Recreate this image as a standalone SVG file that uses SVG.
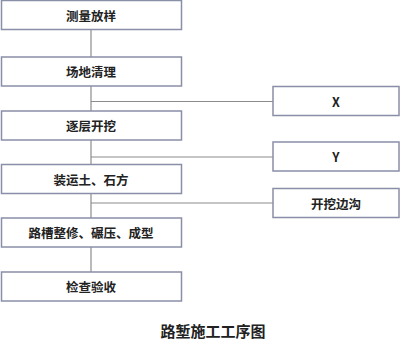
<svg xmlns="http://www.w3.org/2000/svg" width="402" height="348" viewBox="0 0 402 348">
<style>
.box{fill:#fff;stroke:#8a8fa8;stroke-width:1.5}
.t{font-family:"Noto Sans CJK SC","Liberation Sans",sans-serif;font-size:12.5px;font-weight:bold;fill:#222;text-anchor:middle;dominant-baseline:central}
.ln{stroke:#8c8c8c;stroke-width:1.2;fill:none}
</style>
<rect width="402" height="348" fill="#fff"/>
<g id="connectors">
<line class="ln" x1="91" y1="29" x2="91" y2="272"/>
<line class="ln" x1="91" y1="101.5" x2="273" y2="101.5"/>
<line class="ln" x1="91" y1="157" x2="273" y2="157"/>
<line class="ln" x1="91" y1="203" x2="273" y2="203"/>
</g>
<g id="n1"><rect class="box" x="1.5" y="0.5" width="180" height="29"/><text class="t" x="91" y="15">测量放样</text></g>
<g id="n2"><rect class="box" x="1.5" y="57" width="180" height="29"/><text class="t" x="91" y="71.5">场地清理</text></g>
<g id="n3"><rect class="box" x="1.5" y="111" width="180" height="29"/><text class="t" x="91" y="125.5">逐层开挖</text></g>
<g id="n4"><rect class="box" x="1.5" y="164.5" width="180" height="29"/><text class="t" x="91" y="179">装运土、石方</text></g>
<g id="n5"><rect class="box" x="1.5" y="218" width="180" height="29"/><text class="t" x="91" y="232.5">路槽整修、碾压、成型</text></g>
<g id="n6"><rect class="box" x="1.5" y="272" width="180" height="29"/><text class="t" x="91" y="286.5">检查验收</text></g>
<g id="nX"><rect class="box" x="273" y="86.5" width="126" height="29"/><text class="t" x="336" y="101">X</text></g>
<g id="nY"><rect class="box" x="273" y="142" width="126" height="29"/><text class="t" x="336" y="156.5">Y</text></g>
<g id="nG"><rect class="box" x="273" y="188.5" width="126" height="29"/><text class="t" x="336" y="203">开挖边沟</text></g>
<text id="title" x="213" y="330" style="font-family:'Noto Sans CJK SC','Liberation Sans',sans-serif;font-size:15px;font-weight:bold;fill:#222;text-anchor:middle;dominant-baseline:central">路堑施工工序图</text>
</svg>
